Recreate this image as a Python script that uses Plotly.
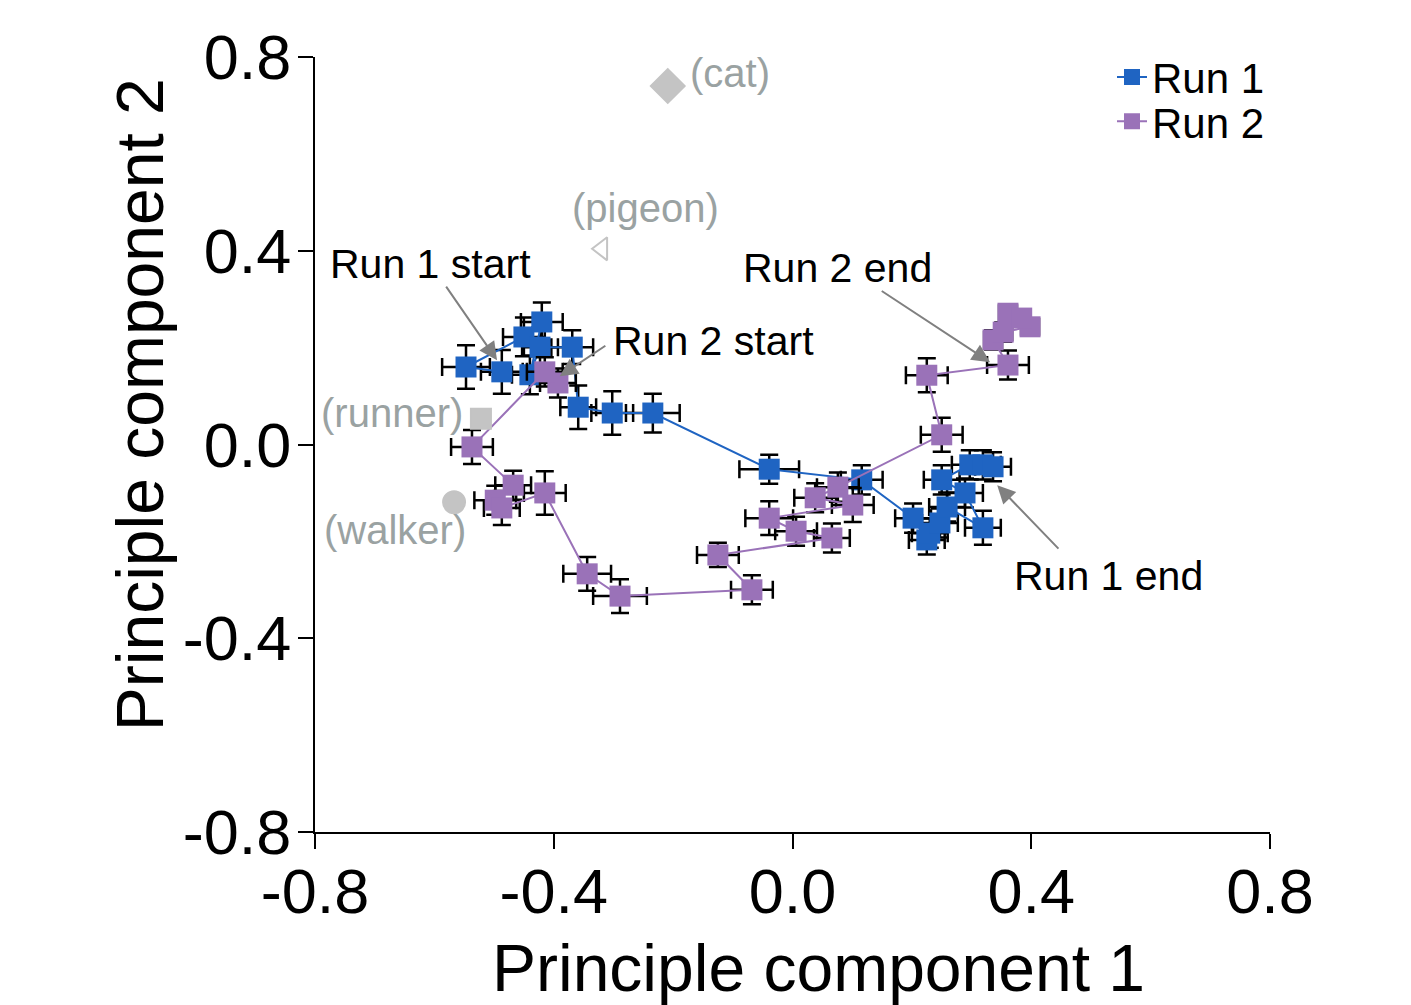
import plotly.graph_objects as go

# Run 1 (blue)
run1_x = [-0.487, -0.547, -0.450, -0.420, -0.440, -0.423, -0.369, -0.359, -0.302, -0.234,
          -0.039, 0.116, 0.202, 0.225, 0.230, 0.247, 0.259, 0.319, 0.289, 0.250, 0.297, 0.319, 0.336]
run1_y = [0.150, 0.160, 0.222, 0.253, 0.144, 0.201, 0.201, 0.077, 0.065, 0.065,
          -0.051, -0.073, -0.152, -0.197, -0.183, -0.162, -0.129, -0.172, -0.100, -0.073, -0.042, -0.042, -0.046]
run1_ex = [0.035, 0.040, 0.035, 0.035, 0.030, 0.030, 0.035, 0.030, 0.035, 0.045,
           0.050, 0.035, 0.030, 0.030, 0.030, 0.030, 0.030, 0.030, 0.030, 0.030, 0.030, 0.030, 0.030]
run1_ey = [0.045, 0.045, 0.040, 0.040, 0.040, 0.040, 0.035, 0.045, 0.045, 0.040,
           0.030, 0.030, 0.030, 0.030, 0.030, 0.030, 0.030, 0.035, 0.030, 0.030, 0.030, 0.030, 0.030]

# Run 2 (purple)
run2_x = [-0.393, -0.415, -0.537, -0.468, -0.498, -0.487, -0.415, -0.344, -0.289, -0.068,
          -0.125, 0.066, 0.006, -0.039, 0.101, 0.038, 0.076, 0.250, 0.225, 0.361,
          0.336, 0.353, 0.398, 0.361, 0.384]
run2_y = [0.127, 0.150, -0.005, -0.084, -0.115, -0.131, -0.100, -0.267, -0.313, -0.300,
          -0.228, -0.193, -0.179, -0.152, -0.125, -0.110, -0.088, 0.020, 0.143, 0.164,
          0.216, 0.232, 0.243, 0.271, 0.261]
run2_ex = [0.030, 0.030, 0.035, 0.030, 0.035, 0.030, 0.035, 0.040, 0.045, 0.035,
           0.035, 0.030, 0.035, 0.040, 0.035, 0.035, 0.035, 0.035, 0.035, 0.035,
           0.015, 0.015, 0.015, 0.015, 0.015]
run2_ey = [0.030, 0.030, 0.035, 0.030, 0.030, 0.035, 0.045, 0.035, 0.035, 0.030,
           0.025, 0.030, 0.030, 0.035, 0.035, 0.030, 0.030, 0.035, 0.035, 0.030,
           0.020, 0.020, 0.015, 0.015, 0.015]

# Reference gaits
ref_names = ["(cat)", "(pigeon)", "(runner)", "(walker)"]
ref_x = [-0.209, -0.319, -0.522, -0.567]
ref_y = [0.740, 0.404, 0.053, -0.119]
ref_symbols = ["diamond", "triangle-left-open", "square", "circle"]
ref_sizes = [26, 20, 20, 22]
ref_label_x = [-0.105, -0.247, -0.671, -0.666]
ref_label_y = [0.767, 0.488, 0.065, -0.177]

# Start / end annotations
lbl_text = ["Run 1 start", "Run 2 start", "Run 2 end", "Run 1 end"]
lbl_x = [-0.607, -0.304, 0.075, 0.529]
lbl_y = [0.373, 0.214, 0.364, -0.271]
lbl_anchor = ["center", "left", "center", "center"]
arrow_tail_x = [-0.582, -0.311, 0.147, 0.448]
arrow_tail_y = [0.329, 0.206, 0.319, -0.218]
arrow_tip_x = [-0.495, -0.390, 0.331, 0.343]
arrow_tip_y = [0.174, 0.141, 0.170, -0.084]

tick_vals = [-0.8, -0.4, 0.0, 0.4, 0.8]
tick_text = ["-0.8", "-0.4", "0.0", "0.4", "0.8"]

BLUE = "#1f64c2"
PURPLE = "#9a72b8"
FONT = "Arial, Liberation Sans, sans-serif"

fig = go.Figure()

def err(arr):
    return dict(type="data", array=arr, visible=True, color="black", thickness=2.5, width=9)

fig.add_trace(go.Scatter(x=run1_x, y=run1_y, mode="lines+markers", name="Run 1", legend="legend",
                         line=dict(color=BLUE, width=2),
                         marker=dict(symbol="square", size=21, color=BLUE),
                         error_x=err(run1_ex), error_y=err(run1_ey), cliponaxis=False))
fig.add_trace(go.Scatter(x=run2_x, y=run2_y, mode="lines+markers", name="Run 2", legend="legend2",
                         line=dict(color=PURPLE, width=2),
                         marker=dict(symbol="square", size=21, color=PURPLE),
                         error_x=err(run2_ex), error_y=err(run2_ey), cliponaxis=False))

for i in range(len(ref_names)):
    fig.add_trace(go.Scatter(x=[ref_x[i]], y=[ref_y[i]], mode="markers", showlegend=False,
                             marker=dict(symbol=ref_symbols[i], size=ref_sizes[i], color="#c4c4c4",
                                         line=dict(color="#c4c4c4", width=2)),
                             cliponaxis=False))
    fig.add_annotation(x=ref_label_x[i], y=ref_label_y[i], text=ref_names[i], showarrow=False,
                       xanchor="center", yanchor="middle",
                       font=dict(family=FONT, size=40, color="#9aa2a2"))

for i in range(4):
    fig.add_annotation(x=arrow_tip_x[i], y=arrow_tip_y[i], ax=arrow_tail_x[i], ay=arrow_tail_y[i],
                       xref="x", yref="y", axref="x", ayref="y", text="", showarrow=True,
                       arrowhead=2, arrowsize=1.8, arrowwidth=2, arrowcolor="#808080")

for i in range(4):
    fig.add_annotation(x=lbl_x[i], y=lbl_y[i], text=lbl_text[i], showarrow=False,
                       xanchor=lbl_anchor[i], yanchor="middle",
                       font=dict(family=FONT, size=41, color="black"))

# Axis titles
fig.add_annotation(xref="paper", yref="paper", x=0.527, y=-0.175, text="Principle component 1",
                   xanchor="center", yanchor="middle",
                   showarrow=False, font=dict(family=FONT, size=66, color="black"))
fig.add_annotation(xref="paper", yref="paper", x=-0.183, y=0.551, text="Principle component 2",
                   xanchor="center", yanchor="middle",
                   textangle=-90, showarrow=False, font=dict(family=FONT, size=66, color="black"))

axis_common = dict(showgrid=False, zeroline=False, showline=True, linecolor="black", linewidth=2,
                   ticks="outside", ticklen=15, tickwidth=2, tickcolor="black",
                   tickfont=dict(family=FONT, size=63, color="black"),
                   tickvals=tick_vals, ticktext=tick_text)

fig.update_xaxes(range=[-0.8, 0.8], ticklabelstandoff=-12, **axis_common)
fig.update_yaxes(range=[-0.8, 0.8], ticklabelstandoff=-6, **axis_common)

leg_common = dict(x=1.0, xanchor="right", yanchor="middle",
                  font=dict(family=FONT, size=42, color="black"), bgcolor="rgba(0,0,0,0)")

fig.update_layout(width=1411, height=1005, margin=dict(l=315, r=141, t=57, b=173),
                  plot_bgcolor="white", paper_bgcolor="white",
                  legend=dict(y=0.974, **leg_common),
                  legend2=dict(y=0.917, **leg_common))

fig.write_html("out.html")
